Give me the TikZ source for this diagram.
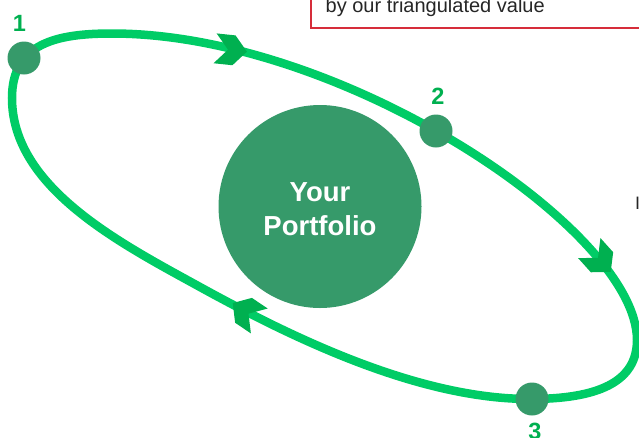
\documentclass[tikz,border=0pt]{standalone}
\usepackage{fontspec}
\setmainfont{Liberation Sans}
\definecolor{orbitgreen}{RGB}{0,204,102}
\definecolor{chevgreen}{RGB}{0,176,80}
\definecolor{dotgreen}{RGB}{54,154,106}
\definecolor{boxred}{RGB}{214,45,58}
\definecolor{darktext}{RGB}{38,38,38}
\tikzset{
  chevron/.pic={
    \path[fill=chevgreen] (-16,-15) -- (3,-15) -- (16,0) -- (3,15)
      -- (-16,15) -- (-3,0) -- cycle;
  }
}
\begin{document}
\begin{tikzpicture}[x=1pt,y=-1pt,
  orbit/.style={draw=orbitgreen, line width=8.5pt},
  stepdot/.style={circle, fill=dotgreen, minimum size=33pt, inner sep=0pt},
  steplabel/.style={text=chevgreen, inner sep=0pt,
    font=\fontsize{23.5}{24}\selectfont\bfseries},
  hub/.style={circle, fill=dotgreen, minimum size=203pt, inner sep=0pt},
  hubtext/.style={text=white, align=center, inner sep=0pt,
    font=\fontsize{27.5}{34.5}\selectfont\bfseries},
  notebox/.style={draw=boxred, line width=2pt, inner sep=0pt},
  notetext/.style={text=darktext, inner sep=0pt, anchor=base west,
    font=\fontsize{20}{24}\selectfont}
]
\useasboundingbox (0,0) rectangle (639,437);
\clip (0,0) rectangle (639,437);

% extreme points of the loop and one point on its lower-left side
\coordinate (L) at (12,98);
\coordinate (T) at (112,33.5);
\coordinate (R) at (637,340);
\coordinate (B) at (530,399);
\coordinate (M) at (200,287);

% positions of the three steps on the loop
\coordinate (p1) at (24,58);
\coordinate (p2) at (436,131);
\coordinate (p3) at (532,399);

% the loop itself
\draw[orbit] (L) .. controls (12,43) and (57,33.5) .. (T)
  .. controls (342,33.5) and (637,230) .. (R)
  .. controls (637,382) and (598,399) .. (B)
  .. controls (420,399) and (296.4,340) .. (M)
  .. controls (121.2,243.6) and (12,188) .. (L) -- cycle;

% direction chevrons
\pic[rotate=-6]   (chevA) at (231,50)  {chevron};
\pic[rotate=-48]  (chevB) at (600,260) {chevron};
\pic[rotate=146]  (chevC) at (246,312) {chevron};

% centre disc
\node[hub] (hub) at (320,206.5) {};
\node[hubtext] (hubtext) at (320,209.4) {Your\\Portfolio};

% step markers
\node[stepdot] (s1) at (p1) {};
\node[stepdot] (s2) at (p2) {};
\node[stepdot] (s3) at (p3) {};
\node[steplabel] (l1) at (19.5,23.5) {1};
\node[steplabel] (l2) at (438,96.5) {2};
\node[steplabel] (l3) at (535,431.5) {3};

% note box at the top
\node[notebox, anchor=south west, minimum width=380pt, minimum height=60pt]
  (note) at (310,29) {};
\node[notetext] (notetext) at (325.5,12.5) {by our triangulated value};

% letter at the right edge
\node[inner sep=0pt, anchor=base west, text=darktext,
  font=\fontsize{18}{18}\selectfont] (edgeletter) at (634.8,209) {I};
\end{tikzpicture}
\end{document}
